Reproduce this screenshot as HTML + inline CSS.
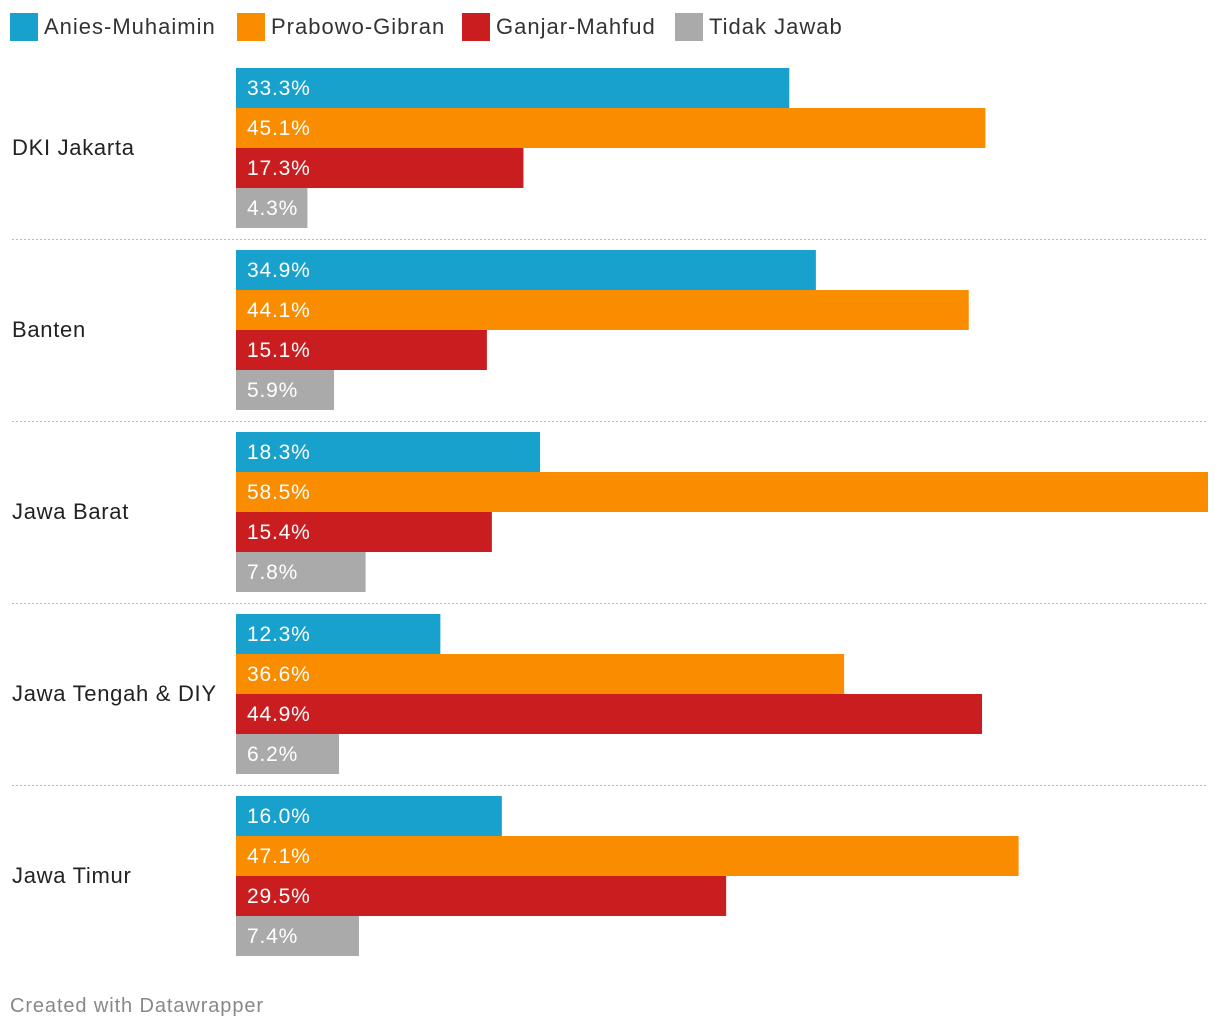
<!DOCTYPE html>
<html><head><meta charset="utf-8"><style>
body{margin:0;width:1220px;height:1034px;background:#fff;font-family:"Liberation Sans",Arial,sans-serif;overflow:hidden;position:relative}
.leg{position:absolute;top:12px;height:30px;display:flex;align-items:center;font-size:22px;color:#333;letter-spacing:1px}
.leg i{display:inline-block;width:28px;height:28px;margin-right:6px}
#foot{position:absolute;left:10px;top:995px;font-size:20px;color:#888;letter-spacing:0.9px}
</style></head><body>
<div class="leg" style="left:10px"><i style="background:#18a1cd"></i>Anies-Muhaimin</div>
<div class="leg" style="left:237px"><i style="background:#fa8c00"></i>Prabowo-Gibran</div>
<div class="leg" style="left:462px"><i style="background:#c91d1f"></i>Ganjar-Mahfud</div>
<div class="leg" style="left:675px"><i style="background:#aaaaaa"></i>Tidak Jawab</div>
<svg id="chart" width="1220" height="1034" style="position:absolute;left:0;top:0" xmlns="http://www.w3.org/2000/svg"></svg>
<div id="foot">Created with Datawrapper</div>
<script>
const categories=["DKI Jakarta","Banten","Jawa Barat","Jawa Tengah & DIY","Jawa Timur"];
const anies=[33.3,34.9,18.3,12.3,16.0];
const prabowo=[45.1,44.1,58.5,36.6,47.1];
const ganjar=[17.3,15.1,15.4,44.9,29.5];
const tidak=[4.3,5.9,7.8,6.2,7.4];
const series=[anies,prabowo,ganjar,tidak];
const seriesNames=["anies","prabowo","ganjar","tidak-jawab"];
const colors=["#18a1cd","#fa8c00","#c91d1f","#aaaaaa"];
const svg=document.getElementById('chart');
const NS="http://www.w3.org/2000/svg";
const x0=236,x1=1208,maxV=58.5;
const xs=v=>v/maxV*(x1-x0);
const top0=68,pitch=182,bh=40;
categories.forEach((c,i)=>{
  const gy=top0+i*pitch;
  const t=document.createElementNS(NS,'text');
  
  
  t.setAttribute('x',12);t.setAttribute('y',gy+80+7);
  t.setAttribute('font-size','22');t.setAttribute('fill','#222');
  t.setAttribute('letter-spacing','0.7');
  t.textContent=c;svg.appendChild(t);
  series.forEach((s,j)=>{
    const y=gy+j*bh;
    const r=document.createElementNS(NS,'rect');
    
    
    r.setAttribute('x',x0);r.setAttribute('y',y);
    r.setAttribute('width',xs(s[i]));r.setAttribute('height',bh);
    r.setAttribute('fill',colors[j]);svg.appendChild(r);
    const l=document.createElementNS(NS,'text');
    
    
    l.setAttribute('x',x0+11);l.setAttribute('y',y+27);
    l.setAttribute('font-size','21');l.setAttribute('fill','#fff');
    l.setAttribute('letter-spacing','0.8');
    l.textContent=s[i].toFixed(1)+'%';svg.appendChild(l);
  });
  if(i<categories.length-1){
    const ln=document.createElementNS(NS,'line');
    
    
    const ly=gy+171.5;
    ln.setAttribute('x1',12);ln.setAttribute('x2',1208);
    ln.setAttribute('y1',ly);ln.setAttribute('y2',ly);
    ln.setAttribute('stroke','#bbb');ln.setAttribute('stroke-dasharray','2,2');
    svg.appendChild(ln);
  }
});
</script>
</body></html>
